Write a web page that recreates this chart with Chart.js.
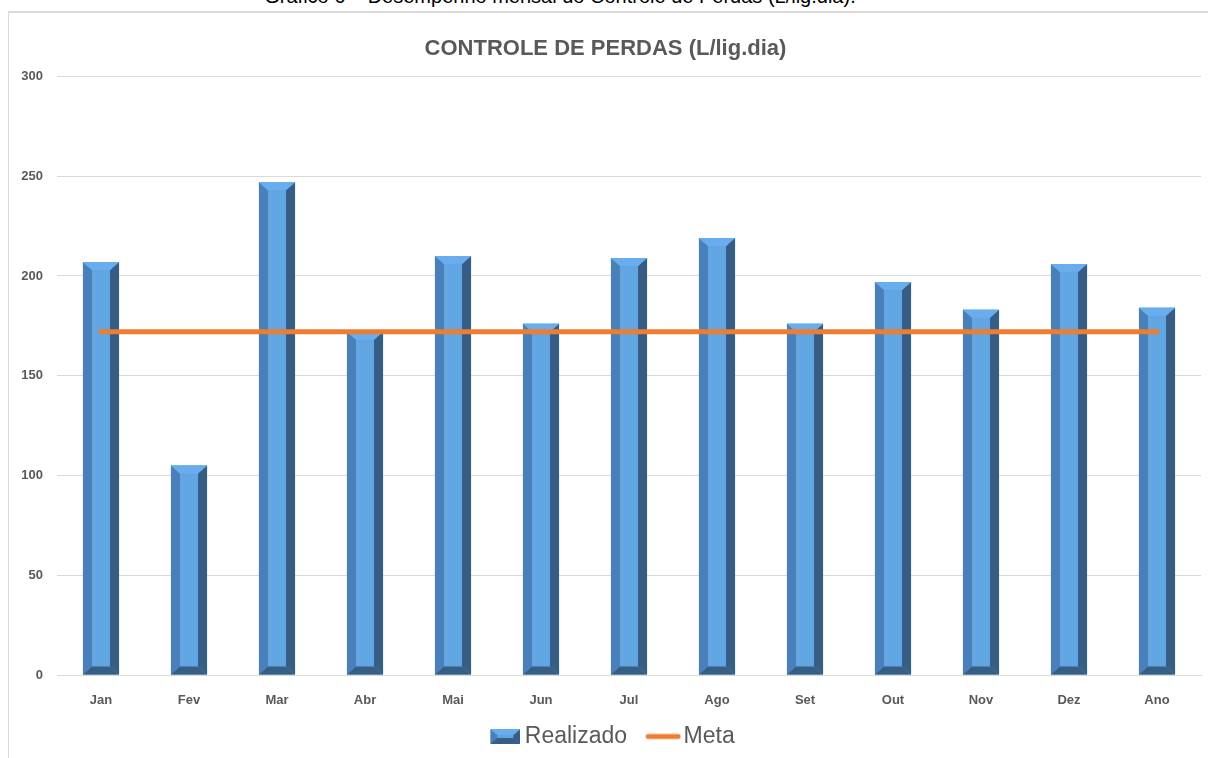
<!DOCTYPE html>
<html>
<head>
<meta charset="utf-8">
<script src="https://cdn.jsdelivr.net/npm/chart.js@4/dist/chart.umd.min.js"></script>
<style>
  html, body { margin: 0; padding: 0; background: #fff; }
  body { width: 1208px; height: 758px; position: relative; overflow: hidden; }
  #legenda { position: absolute; top: -15px; left: 0; width: 1120px; text-align: center;
    font-family: "Liberation Sans Narrow", "Liberation Sans", Arial, sans-serif; font-size: 20px; color: #000; }
  #moldura { position: absolute; left: 8px; top: 11px; right: -2px; bottom: -2px;
    border-left: 1px solid #d9d9d9; border-top: 2px solid #d9d9d9; }
  #wrap { position: absolute; left: 0; top: 0; width: 1208px; height: 758px; }
</style>
</head>
<body>
<div id="legenda">Gráfico 6 – Desempenho mensal do Controle de Perdas (L/lig.dia).</div>
<div id="moldura"></div>
<div id="wrap"><canvas id="perdasChart"></canvas></div>
<script>
// dados do gráfico
const meses = ['Jan', 'Fev', 'Mar', 'Abr', 'Mai', 'Jun', 'Jul', 'Ago', 'Set', 'Out', 'Nov', 'Dez', 'Ano'];
const realizado = [207, 105, 247, 172, 210, 176, 209, 219, 176, 197, 183, 206, 184];
const meta = [172, 172, 172, 172, 172, 172, 172, 172, 172, 172, 172, 172, 172];
const ticksY = [0, 50, 100, 150, 200, 250, 300];

const fonte = '"Liberation Sans Narrow", "Liberation Sans", Arial, sans-serif';
const cinza = '#595959';

// cores do efeito chanfrado
const corCentro = '#62a5e3';
const corEsq = '#4a80b9';
const corDir = '#365e85';
const corTopo = '#69adee';
const corBase = '#375f86';

function desenhaChanfro(ctx, L, R, T, B, b, tb) {
    const face = (pts, cor) => {
        ctx.beginPath();
        ctx.moveTo(pts[0][0], pts[0][1]);
        for (let i = 1; i < pts.length; i++) ctx.lineTo(pts[i][0], pts[i][1]);
        ctx.closePath();
        ctx.fillStyle = cor;
        ctx.fill();
    };
    face([[L, T], [R, T], [R, B], [L, B]], corCentro);
    face([[L, T], [L + b, T + tb], [L + b, B - tb], [L, B]], corEsq);
    face([[R, T], [R - b, T + tb], [R - b, B - tb], [R, B]], corDir);
    face([[L, T], [R, T], [R - b, T + tb], [L + b, T + tb]], corTopo);
    face([[L, B], [R, B], [R - b, B - tb], [L + b, B - tb]], corBase);
}

// ícones da legenda (com margem transparente à esquerda para encostar no texto)
const iconeBarra = document.createElement('canvas');
iconeBarra.width = 51; iconeBarra.height = 15;
desenhaChanfro(iconeBarra.getContext('2d'), 21, 51, 0, 15, 7, 6);

const iconeLinha = document.createElement('canvas');
iconeLinha.width = 55; iconeLinha.height = 8;
(function() {
    const c = iconeLinha.getContext('2d');
    c.strokeStyle = '#ed7d31';
    c.lineWidth = 5;
    c.lineCap = 'round';
    c.beginPath();
    c.moveTo(22, 4);
    c.lineTo(52, 4);
    c.stroke();
})();

// plugin que desenha as barras com chanfro
const chanfroPlugin = {
    id: 'chanfro',
    afterDatasetDraw(chart, args) {
        if (args.index !== 0) return;
        const ctx = chart.ctx;
        ctx.save();
        args.meta.data.forEach(bar => {
            const p = bar.getProps(['x', 'y', 'base', 'width'], true);
            desenhaChanfro(ctx, p.x - p.width / 2, p.x + p.width / 2, p.y, p.base, 9, 8);
        });
        ctx.restore();
    }
};

Chart.defaults.font.family = fonte;
Chart.defaults.color = cinza;

const ctx = document.getElementById('perdasChart').getContext('2d');
const perdasChart = new Chart(ctx, {
    type: 'bar',
    data: {
        labels: meses,
        datasets: [{
            type: 'bar',
            label: 'Realizado',
            data: realizado,
            backgroundColor: corCentro,
            borderWidth: 0,
            categoryPercentage: 1,
            barPercentage: 0.41,
            pointStyle: iconeBarra,
            order: 2
        }, {
            type: 'line',
            label: 'Meta',
            data: meta,
            borderColor: '#ed7d31',
            backgroundColor: '#ed7d31',
            borderWidth: 5,
            borderCapStyle: 'round',
            pointRadius: 0,
            pointStyle: iconeLinha,
            order: 1
        }]
    },
    options: {
        responsive: true,
        maintainAspectRatio: false,
        animation: false,
        layout: { padding: { left: 10, right: 7, top: 12, bottom: 0 } },
        plugins: {
            title: {
                display: true,
                text: 'CONTROLE DE PERDAS (L/lig.dia)',
                color: cinza,
                font: { size: 22, weight: 'bold' },
                padding: { top: 24, bottom: 14 }
            },
            legend: {
                position: 'bottom',
                labels: {
                    usePointStyle: true,
                    pointStyleWidth: 37,
                    color: cinza,
                    font: { size: 23 },
                    padding: 8,
                    sort: (a, b) => a.datasetIndex - b.datasetIndex
                }
            },
            tooltip: { enabled: false }
        },
        scales: {
            x: {
                grid: { display: false },
                border: { color: '#d9d9d9' },
                ticks: { color: cinza, font: { size: 13, weight: 'bold' }, padding: 10 },
                afterFit(scale) { scale.height = 42; }
            },
            y: {
                min: 0,
                max: 300,
                afterBuildTicks(scale) { scale.ticks = ticksY.map(v => ({ value: v })); },
                grid: { color: '#d9d9d9', drawTicks: false },
                border: { display: false },
                ticks: { color: cinza, font: { size: 13, weight: 'bold' }, padding: 14 },
                afterFit(scale) { scale.width = 47; }
            }
        }
    },
    plugins: [chanfroPlugin]
});
</script>
</body>
</html>
